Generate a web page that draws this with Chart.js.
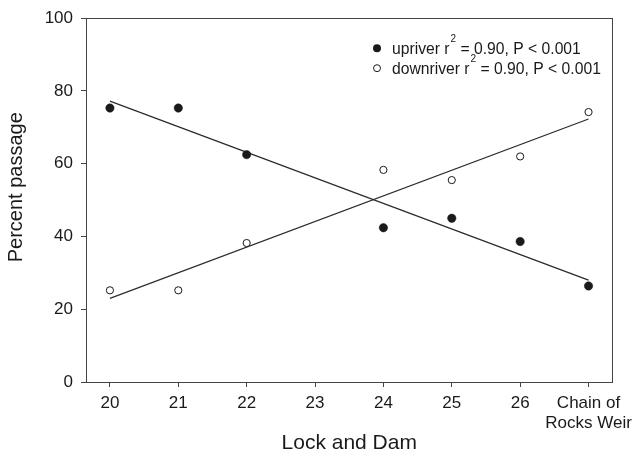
<!DOCTYPE html>
<html>
<head>
<meta charset="utf-8">
<script src="https://cdn.jsdelivr.net/npm/chart.js@4/dist/chart.umd.min.js"></script>
<style>
  html,body{margin:0;padding:0;background:#fff}
  #wrap{width:639px;height:461px}
</style>
</head>
<body>
<div id="wrap"><canvas id="c" width="639" height="461"></canvas></div>
<script>
// tick labels on the x axis (sites) and where they sit
const siteLabels = ['20','21','22','23','24','25','26',['Chain of','Rocks Weir']];
const sitePos = [20,21,22,23,24,25,26,27];

// sampled sites (no value for 23)
const sampleX = [20,21,22,24,25,26,27];
const upriver = [75.3, 75.3, 62.5, 42.4, 45.0, 38.6, 26.4];
const downriver = [25.2, 25.2, 38.2, 58.3, 55.5, 62.0, 74.2];

// regression line ends, read at x = 20 and x = 27
const fitX = [20, 27];
const upFit = [77.2, 28.0];
const downFit = [23.0, 72.3];

const yTicks = [0,20,40,60,80,100];

const FONT = '"Liberation Sans", Arial, sans-serif';
const INK = '#1a1a1a';
const LINE = '#444';

function pts(xs, ys){ return xs.map((x,i)=>({x, y: ys[i]})) }

// box around plot area, y title, legend with superscripts
const extras = {
  id: 'extras',
  afterDraw(chart){
    const {ctx, chartArea: a} = chart;
    ctx.save();
    ctx.strokeStyle = LINE; ctx.lineWidth = 1;
    ctx.strokeRect(Math.round(a.left)+0.5, Math.round(a.top)+0.5, Math.round(a.right-a.left), Math.round(a.bottom-a.top));

    // y axis title (sits a bit above the plot middle, as in the original)
    ctx.save();
    ctx.translate(16, a.top + 169);
    ctx.rotate(-Math.PI/2);
    ctx.fillStyle = INK;
    ctx.font = '20px ' + FONT;
    ctx.textAlign = 'center'; ctx.textBaseline = 'middle';
    ctx.fillText('Percent passage', 0, 0);
    ctx.restore();

    const rows = [
      {name:'upriver r', filled:true},
      {name:'downriver r', filled:false}
    ];
    const mx = a.left + 291, tx = a.left + 306;
    const size = 15.7;
    rows.forEach((r,i)=>{
      const cy = a.top + 30 + i*20;
      ctx.beginPath();
      ctx.arc(mx, cy, r.filled ? 4 : 3.5, 0, Math.PI*2);
      if(r.filled){ ctx.fillStyle = INK; ctx.fill(); }
      else { ctx.fillStyle='#fff'; ctx.fill(); ctx.strokeStyle = INK; ctx.lineWidth=1; ctx.stroke(); }
      ctx.fillStyle = INK;
      ctx.textBaseline = 'alphabetic';
      ctx.textAlign = 'left';
      ctx.font = size + 'px ' + FONT;
      const base = cy + 5.5;
      ctx.fillText(r.name, tx, base);
      let x = tx + ctx.measureText(r.name).width + 1;
      ctx.font = '10px ' + FONT;
      ctx.fillText('2', x, base - 12);
      x += ctx.measureText('2').width;
      ctx.font = size + 'px ' + FONT;
      ctx.fillText(' = 0.90, P < 0.001', x, base);
    });
    ctx.restore();
  }
};

new Chart(document.getElementById('c'), {
  type: 'scatter',
  data: {
    datasets: [
      {label:'upriver', data: pts(sampleX, upriver), pointRadius: 4.2, pointBackgroundColor: INK, pointBorderColor: INK, pointBorderWidth: 0.5},
      {label:'downriver', data: pts(sampleX, downriver), pointRadius: 3.6, pointBackgroundColor: '#fff', pointBorderColor: INK, pointBorderWidth: 1},
      {label:'upriver fit', data: pts(fitX, upFit), showLine: true, pointRadius: 0, borderColor: '#2a2a2a', borderWidth: 1.2, order: 5},
      {label:'downriver fit', data: pts(fitX, downFit), showLine: true, pointRadius: 0, borderColor: '#2a2a2a', borderWidth: 1.2, order: 5}
    ]
  },
  options: {
    responsive: false,
    animation: false,
    layout: { padding: { top: 13, right: 26, left: 0, bottom: 0 } },
    plugins: { legend: {display:false}, tooltip: {enabled:false} },
    scales: {
      x: {
        type: 'linear', min: 19.65, max: 27.35,
        afterBuildTicks(s){ s.ticks = sitePos.map(v=>({value:v})) },
        afterFit(s){ s.height = 79 },
        ticks: {
          color: INK, font: {family: FONT, size: 17}, padding: 6, maxRotation: 0, autoSkip: false,
          callback(v){ const i = sitePos.indexOf(v); return i >= 0 ? siteLabels[i] : '' }
        },
        grid: { drawOnChartArea: false, tickLength: 5, color: LINE },
        border: { color: LINE },
        title: { display: true, text: 'Lock and Dam', color: INK, font: {family: FONT, size: 21}, padding: {top: 0, bottom: 5} }
      },
      y: {
        min: 0, max: 100,
        afterBuildTicks(s){ s.ticks = yTicks.map(v=>({value:v})) },
        afterFit(s){ s.width = 86 },
        ticks: { color: INK, font: {family: FONT, size: 17}, padding: 8 },
        grid: { drawOnChartArea: false, tickLength: 5, color: LINE },
        border: { color: LINE },
        title: { display: false }
      }
    }
  },
  plugins: [extras]
});
</script>
</body>
</html>
